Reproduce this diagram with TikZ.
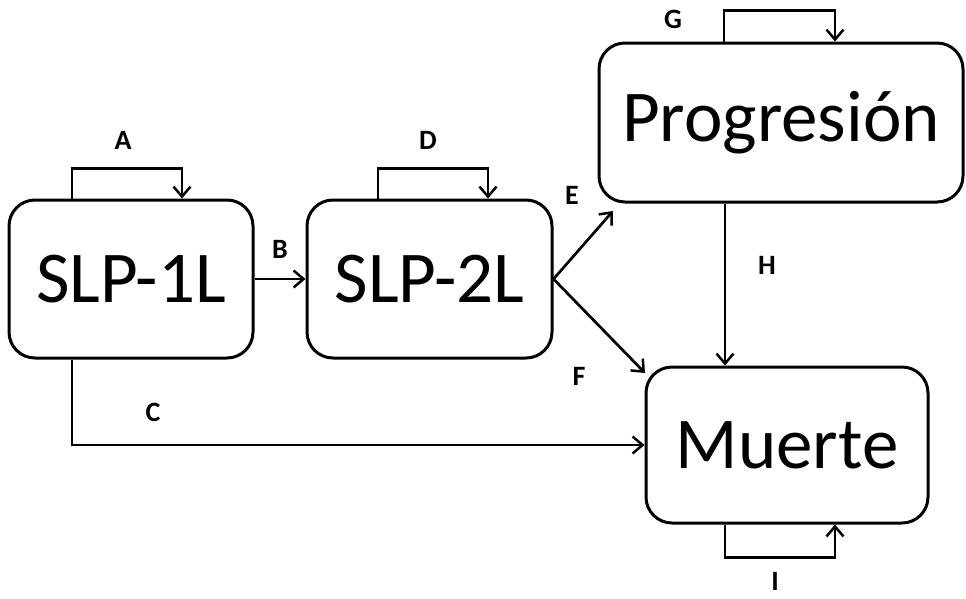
\documentclass[tikz,border=0pt]{standalone}
\usepackage{fontspec}
\setmainfont{Carlito}
\usetikzlibrary{arrows.meta}
\tikzset{
  box/.style={draw, line width=3pt, rounded corners=26pt, inner sep=0pt,
    font=\fontsize{73}{80}\selectfont},
  arr/.style={line width=2.7pt, -{Straight Barb[length=10pt,width=17pt,line width=2.5pt]}},
  lbl/.style={font=\fontsize{28}{32}\selectfont\bfseries, inner sep=0pt}
}
\begin{document}
\begin{tikzpicture}[x=1pt,y=-1pt]
\useasboundingbox (0,0) rectangle (966,598);
\node[box, minimum width=244pt, minimum height=158pt] (s1) at (131,279) {SLP-1L};
\node[box, minimum width=245pt, minimum height=158pt] (s2) at (429.5,279) {SLP-2L};
\node[box, minimum width=364pt, minimum height=159pt] (pr) at (781,122.5) {Progresión};
\node[box, minimum width=282pt, minimum height=156pt] (mu) at (787,445) {Muerte};

\coordinate (eend) at (613,211);
\coordinate (fend) at (645,373);

% self loops
\draw[arr] ([xshift=-59pt]s1.north) -- ++(0,-30) -| ([xshift=51pt]s1.north);
\draw[arr] ([xshift=-51.5pt]s2.north) -- ++(0,-30) -| ([xshift=58.5pt]s2.north);
\draw[arr] ([xshift=-57pt]pr.north) -- ++(0,-31) -| ([xshift=54pt]pr.north);
\draw[arr] ([xshift=-62pt]mu.south) -- ++(0,33) -| ([xshift=48pt]mu.south);

% transitions
\draw[arr] (s1.east) -- (s2.west);
\draw[arr] ([xshift=-59pt]s1.south) |- (mu.west);
\draw[arr] (s2.east) -- (eend);
\draw[arr] (s2.east) -- (fend);
\draw[arr] ([xshift=-56pt]pr.south) -- ([xshift=-56pt]pr.south |- mu.north);

% labels
\node[lbl] (la) at (123,140) {A};
\node[lbl] (lb) at (280,249) {B};
\node[lbl] (lc) at (153,412) {C};
\node[lbl] (ld) at (428,140) {D};
\node[lbl] (le) at (572,195) {E};
\node[lbl] (lf) at (579,376) {F};
\node[lbl] (lg) at (673,19) {G};
\node[lbl] (lh) at (767,265) {H};
\node[lbl] (li) at (775,581) {I};
\end{tikzpicture}
\end{document}
